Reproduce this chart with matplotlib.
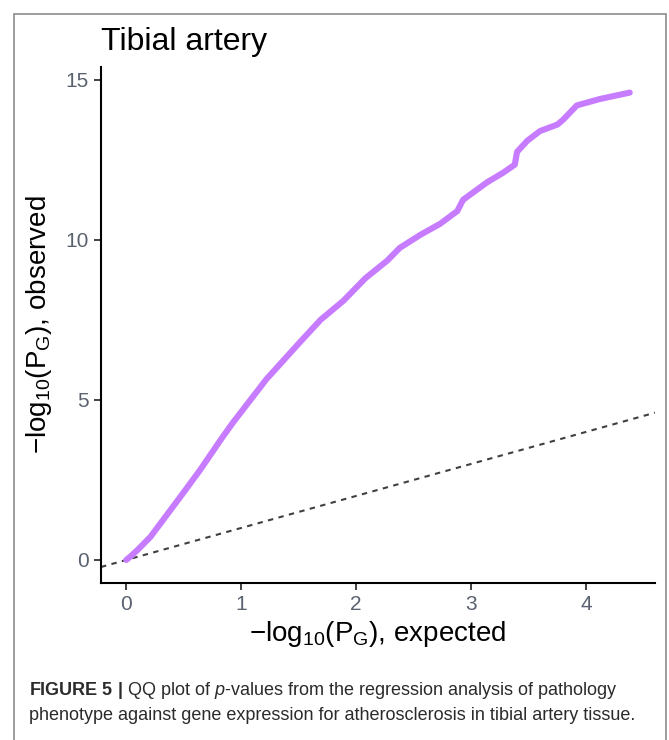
import matplotlib
matplotlib.use("Agg")
from matplotlib import pyplot as plt
from matplotlib.patches import Rectangle

plt.rcParams['font.family'] = ['Liberation Sans', 'DejaVu Sans']
plt.rcParams['mathtext.fontset'] = 'custom'
plt.rcParams['mathtext.rm'] = 'Liberation Sans'
plt.rcParams['mathtext.it'] = 'Liberation Sans:italic'
plt.rcParams['mathtext.bf'] = 'Liberation Sans:bold'

#------------------------------------------------
# QQ curve
expected = [0, 0.05, 0.1, 0.21, 0.47, 0.64, 0.84, 0.93, 1.22, 1.51, 1.69, 1.89,
            2.08, 2.27, 2.38, 2.56, 2.73, 2.88, 2.93, 3.14, 3.28, 3.38, 3.40,
            3.49, 3.6, 3.75, 3.80, 3.92, 4.12, 4.38]
observed = [0, 0.15, 0.32, 0.72, 1.97, 2.8, 3.85, 4.3, 5.65, 6.8, 7.5, 8.1,
            8.8, 9.35, 9.75, 10.16, 10.5, 10.9, 11.25, 11.8, 12.1, 12.35, 12.75,
            13.1, 13.4, 13.6, 13.75, 14.2, 14.4, 14.6]

x_ticks = [0, 1, 2, 3, 4]
y_ticks = [0, 5, 10, 15]

title = "Tibial artery"
caption1 = r"$\mathbf{FIGURE\ 5\ |}$ QQ plot of $\mathit{p}$-values from the regression analysis of pathology"
caption2 = "phenotype against gene expression for atherosclerosis in tibial artery tissue."

#------------------------------------------------
W, H = 669, 740
fig = plt.figure(figsize=(W / 100, H / 100), dpi=100)

# panel frame around figure + caption
fig.patches.append(Rectangle((14 / W, -0.05), 652 / W, 1 - 14 / H + 0.05,
                             transform=fig.transFigure, fill=False,
                             edgecolor='#8c8c8c', lw=1.2))

ax = fig.add_axes([101 / W, 1 - 583 / H, (655 - 101) / W, (583 - 67) / H])

ax.axline((0, 0), slope=1, ls=(0, (2.6, 2.6)), color='#404040', lw=1.5, zorder=1)
ax.plot(expected, observed, color='#C77CFF', lw=4.4, solid_capstyle='round',
        solid_joinstyle='round', zorder=2)

ax.set_xlim(-0.22, 4.6)
ax.set_ylim(-0.72, 15.4)
ax.set_xticks(x_ticks)
ax.set_yticks(y_ticks)

for s in ['top', 'right']:
    ax.spines[s].set_visible(False)
for s in ['left', 'bottom']:
    ax.spines[s].set_linewidth(1.5)
    ax.spines[s].set_color('black')

ax.tick_params(length=5, width=1.3, color='#333333', labelcolor='#5a6270',
               labelsize=15, pad=4)

ax.set_xlabel(r"$-\mathrm{log}_{10}(\mathrm{P}_{\mathrm{G}})$, expected",
              fontsize=20, labelpad=3)
ax.set_ylabel(r"$-\mathrm{log}_{10}(\mathrm{P}_{\mathrm{G}})$, observed",
              fontsize=20, labelpad=8)

fig.text(101 / W, 1 - 50 / H, title, fontsize=23, ha='left', va='baseline')

fig.text(29 / W, 1 - 695 / H, caption1, fontsize=13, color='#2b2b2b',
         ha='left', va='baseline')
fig.text(29 / W, 1 - 720 / H, caption2, fontsize=13, color='#2b2b2b',
         ha='left', va='baseline')

plt.savefig('out.png', dpi=100)
